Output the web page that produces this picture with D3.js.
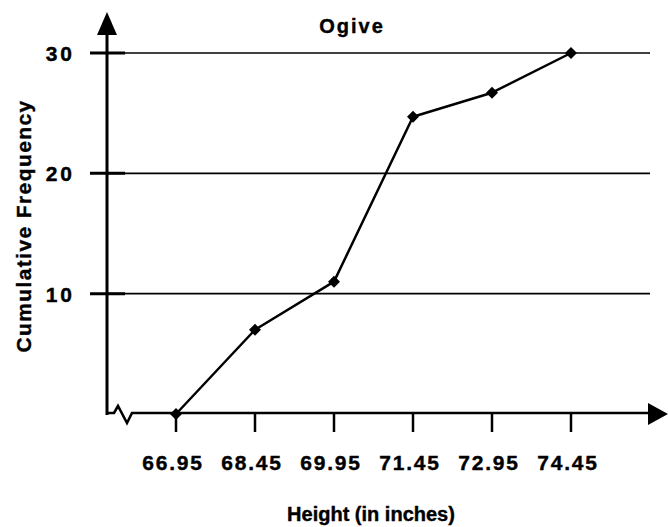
<!DOCTYPE html>
<html>
<head>
<meta charset="utf-8">
<script src="https://cdn.jsdelivr.net/npm/d3@7"></script>
<style>
  body { margin: 0; background: #fff; }
  text { font-family: "Liberation Sans", Arial, sans-serif; font-weight: bold; fill: #000; stroke: #000; stroke-width: 0.4px; }
</style>
</head>
<body>
<svg id="plot" width="668" height="527"></svg>
<script>
const svg = d3.select('#plot');

// Data
const heights = [66.95, 68.45, 69.95, 71.45, 72.95, 74.45];
const cumFreq = [0, 7, 11, 24.7, 26.7, 30];
const yTicks = [10, 20, 30];
const title = 'Ogive';
const xLabel = 'Height (in inches)';
const yLabel = 'Cumulative Frequency';

const data = heights.map((h, i) => ({x: h, y: cumFreq[i]}));

const xScale = d3.scaleLinear()
    .domain([66.95, 74.45])
    .range([176, 571]);

const yScale = d3.scaleLinear()
    .domain([0, 30])
    .range([414, 53]);

const axisX = 107;         // y axis position
const axisY = 413;         // x axis position
const gridRight = 650;

// gridlines
svg.append('g').selectAll('line').data(yTicks)
  .enter().append('line')
    .attr('x1', axisX).attr('x2', gridRight)
    .attr('y1', d => yScale(d)).attr('y2', d => yScale(d))
    .attr('stroke', '#000').attr('stroke-width', 1.6);

// y ticks (thick, across axis)
svg.append('g').selectAll('line').data(yTicks)
  .enter().append('line')
    .attr('x1', 90).attr('x2', 125)
    .attr('y1', d => yScale(d)).attr('y2', d => yScale(d))
    .attr('stroke', '#000').attr('stroke-width', 3);

// y tick labels
svg.append('g').selectAll('text').data(yTicks)
  .enter().append('text')
    .attr('x', 75)
    .attr('y', d => yScale(d) + 8)
    .attr('text-anchor', 'end')
    .attr('font-size', '21px')
    .attr('letter-spacing', '3px')
    .text(d => d);

// y axis with arrow
svg.append('line')
    .attr('x1', axisX).attr('x2', axisX)
    .attr('y1', axisY + 2).attr('y2', 30)
    .attr('stroke', '#000').attr('stroke-width', 3);
svg.append('path')
    .attr('d', `M${axisX - 10},35 L${axisX + 10},35 L${axisX},12 Z`)
    .attr('fill', '#000');

// x axis with break and arrow
const brk = d3.line()([
  [axisX, axisY], [114, axisY], [118, 406], [127, 423], [132, axisY], [650, axisY]
]);
svg.append('path')
    .attr('d', brk)
    .attr('fill', 'none')
    .attr('stroke', '#000')
    .attr('stroke-width', 2.6)
    .attr('stroke-linejoin', 'miter');
svg.append('path')
    .attr('d', `M648,403 L648,425 L668,414 Z`)
    .attr('fill', '#000');

// x ticks
svg.append('g').selectAll('line').data(heights)
  .enter().append('line')
    .attr('x1', d => xScale(d)).attr('x2', d => xScale(d))
    .attr('y1', axisY).attr('y2', 432)
    .attr('stroke', '#000').attr('stroke-width', 2.5);

// x tick labels
svg.append('g').selectAll('text').data(heights)
  .enter().append('text')
    .attr('x', d => xScale(d) - 3)
    .attr('y', 470)
    .attr('text-anchor', 'middle')
    .attr('font-size', '21px')
    .attr('letter-spacing', '1.8px')
    .text(d => d3.format('.2f')(d));

// line
const lineGenerator = d3.line()
    .x(d => xScale(d.x))
    .y(d => yScale(d.y));

svg.append('path')
    .attr('d', lineGenerator(data))
    .attr('fill', 'none')
    .attr('stroke', '#000')
    .attr('stroke-width', 2.5)
    .attr('stroke-linejoin', 'round');

// diamond markers
svg.append('g').selectAll('path').data(data)
  .enter().append('path')
    .attr('transform', d => `translate(${xScale(d.x)},${yScale(d.y)})`)
    .attr('d', 'M0,-6 L6,0 L0,6 L-6,0 Z')
    .attr('fill', '#000');

// titles
svg.append('text')
    .attr('x', 352).attr('y', 33)
    .attr('text-anchor', 'middle')
    .attr('font-size', '20px')
    .attr('letter-spacing', '2px')
    .text(title);

svg.append('text')
    .attr('x', 371).attr('y', 521)
    .attr('text-anchor', 'middle')
    .attr('font-size', '20px')
    .text(xLabel);

svg.append('text')
    .attr('transform', 'translate(31, 226) rotate(-90)')
    .attr('text-anchor', 'middle')
    .attr('font-size', '21px')
    .attr('letter-spacing', '1.4px')
    .text(yLabel);
</script>
</body>
</html>
